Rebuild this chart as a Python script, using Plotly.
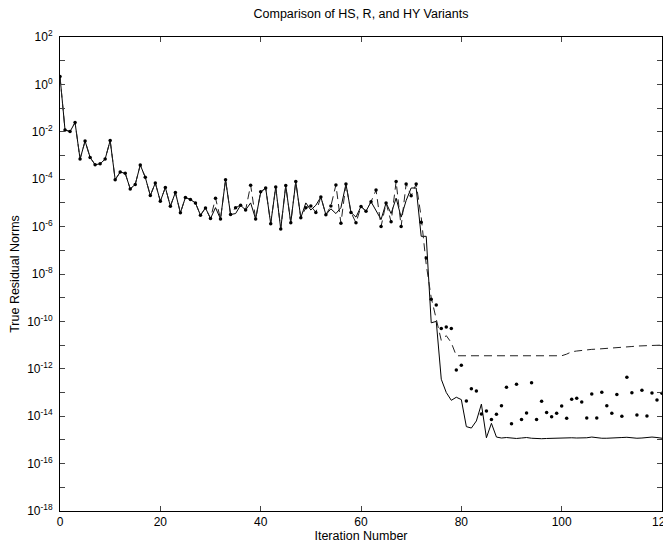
import plotly.graph_objects as go

# iteration numbers 0..120
iterations = list(range(121))

# log10 of the true residual norms
hs_log = [0.33, -1.92, -1.99, -1.61, -3.15, -2.39, -3.08, -3.39, -3.35, -3.15,
          -2.37, -4.02, -3.70, -3.75, -4.41, -4.22, -3.40, -3.92, -4.69, -4.16,
          -4.93, -4.35, -5.14, -4.56, -5.42, -4.77, -4.86, -5.00, -5.52, -5.21,
          -5.66, -5.20, -5.68, -4.02, -5.49, -5.45, -5.10, -5.30, -5.00, -5.68,
          -4.56, -4.37, -5.88, -4.33, -6.10, -4.27, -5.84, -4.10, -5.63, -5.00,
          -5.30, -5.10, -4.75, -5.50, -5.25, -5.45, -5.20, -4.20, -5.40, -5.60,
          -5.15, -5.35, -4.95, -5.30, -5.70, -5.00, -5.45, -4.80, -5.60, -4.90,
          -4.37, -4.37, -6.41, -6.41, -10.06, -10.00, -12.44, -13.00, -13.33, -13.20,
          -13.30, -14.44, -14.50, -14.20, -13.49, -14.91, -14.30, -14.88, -14.92, -14.90,
          -14.93, -14.94, -14.92, -14.90, -14.93, -14.95, -14.95, -14.94, -14.93, -14.92,
          -14.92, -14.92, -14.91, -14.92, -14.92, -14.91, -14.88, -14.92, -14.93, -14.93,
          -14.93, -14.92, -14.90, -14.89, -14.92, -14.93, -14.92, -14.90, -14.88, -14.90,
          -14.93]

r_log = [0.33, -1.92, -1.99, -1.61, -3.15, -2.39, -3.08, -3.39, -3.35, -3.15,
         -2.37, -4.02, -3.70, -3.75, -4.41, -4.22, -3.40, -3.92, -4.69, -4.16,
         -4.93, -4.35, -5.14, -4.56, -5.42, -4.77, -4.86, -5.00, -5.52, -5.21,
         -5.66, -4.80, -5.68, -4.02, -5.49, -5.20, -5.10, -5.30, -4.25, -5.68,
         -4.53, -4.37, -5.88, -4.33, -6.10, -4.27, -5.84, -4.10, -5.63, -5.20,
         -5.13, -5.40, -4.75, -5.50, -5.13, -4.24, -5.86, -4.20, -5.40, -5.84,
         -5.15, -5.35, -4.95, -4.46, -6.00, -5.00, -5.80, -4.10, -6.00, -4.20,
         -4.70, -4.20, -5.60, -7.60, -9.00, -9.90, -10.80, -10.60, -10.90, -11.45,
         -11.45, -11.45, -11.45, -11.45, -11.45, -11.45, -11.45, -11.45, -11.45, -11.45,
         -11.45, -11.45, -11.45, -11.45, -11.45, -11.45, -11.45, -11.45, -11.45, -11.45,
         -11.45, -11.38, -11.28, -11.25, -11.22, -11.20, -11.18, -11.17, -11.15, -11.14,
         -11.13, -11.12, -11.10, -11.08, -11.06, -11.04, -11.03, -11.02, -11.01, -11.00,
         -11.00]

hy_log = [0.33, -1.92, -1.99, -1.61, -3.15, -2.39, -3.08, -3.39, -3.35, -3.15,
          -2.37, -4.02, -3.70, -3.75, -4.41, -4.22, -3.40, -3.92, -4.69, -4.16,
          -4.93, -4.35, -5.14, -4.56, -5.42, -4.77, -4.86, -5.00, -5.52, -5.21,
          -5.66, -4.80, -5.68, -4.02, -5.49, -5.20, -5.10, -5.30, -4.25, -5.68,
          -4.53, -4.37, -5.88, -4.33, -6.10, -4.27, -5.84, -4.10, -5.63, -5.20,
          -5.13, -5.40, -4.75, -5.50, -5.13, -4.24, -5.86, -4.20, -5.40, -5.84,
          -5.15, -5.35, -4.95, -4.46, -6.00, -5.00, -5.80, -4.10, -6.00, -4.20,
          -4.70, -4.20, -5.82, -7.32, -9.07, -9.31, -10.30, -10.24, -10.30, -12.05,
          -11.85, -13.36, -12.84, -12.94, -13.91, -13.78, -14.14, -13.92, -13.56, -12.78,
          -14.32, -12.65, -14.14, -13.86, -12.59, -14.14, -13.37, -13.84, -14.02, -13.88,
          -13.57, -14.09, -13.29, -13.24, -13.40, -14.08, -13.06, -14.08, -12.99, -13.56,
          -13.88, -13.08, -14.00, -12.36, -13.01, -13.95, -12.90, -13.99, -13.02, -13.32,
          -13.03]

# y ticks: one per decade, labels on even decades only
y_exponents = list(range(-18, 3))
y_tick_labels = ["10<sup>%d</sup>" % k if k % 2 == 0 else "" for k in y_exponents]
x_ticks = [0, 20, 40, 60, 80, 100, 120]

font = "Liberation Sans, Arial, sans-serif"

fig = go.Figure()
fig.add_trace(go.Scatter(x=iterations, y=[10 ** v for v in hs_log], mode="lines",
                         name="HS", line=dict(color="black", width=1)))
fig.add_trace(go.Scatter(x=iterations, y=[10 ** v for v in r_log], mode="lines",
                         name="R", line=dict(color="#222", width=1, dash="8px,5px")))
fig.add_trace(go.Scatter(x=iterations, y=[10 ** v for v in hy_log], mode="markers",
                         name="HY", marker=dict(color="black", size=3.5)))

# the page body keeps its 8px margin, so shift the plot area to compensate;
# the right edge runs past the window so "120" gets clipped like the original
fig.update_layout(
    width=671, height=536,
    margin=dict(l=52, r=17, t=29, b=33, autoexpand=False),
    paper_bgcolor="white", plot_bgcolor="white",
    showlegend=False,
    font=dict(family=font, size=12, color="black"),
    title=dict(text="Comparison of HS, R, and HY Variants", x=0.5, xanchor="center",
               xref="paper", y=0.989, yref="container", yanchor="middle",
               font=dict(size=12.5)),
)
fig.update_xaxes(range=[0, 120], tickvals=x_ticks, ticks="inside", ticklen=5,
                 showline=True, linecolor="black", linewidth=1, mirror="ticks",
                 showgrid=False, zeroline=False, automargin=False,
                 title=dict(text="Iteration Number", standoff=1, font=dict(size=12.5)))
fig.update_yaxes(type="log", range=[-18, 2],
                 tickvals=[10 ** k for k in y_exponents], ticktext=y_tick_labels,
                 ticks="inside", ticklen=5, ticklabelstandoff=4,
                 showline=True, linecolor="black", linewidth=1, mirror="ticks",
                 showgrid=False, zeroline=False, automargin=False,
                 title=dict(text="True Residual Norms", standoff=11, font=dict(size=12.5)))

fig.write_html("out.html")
